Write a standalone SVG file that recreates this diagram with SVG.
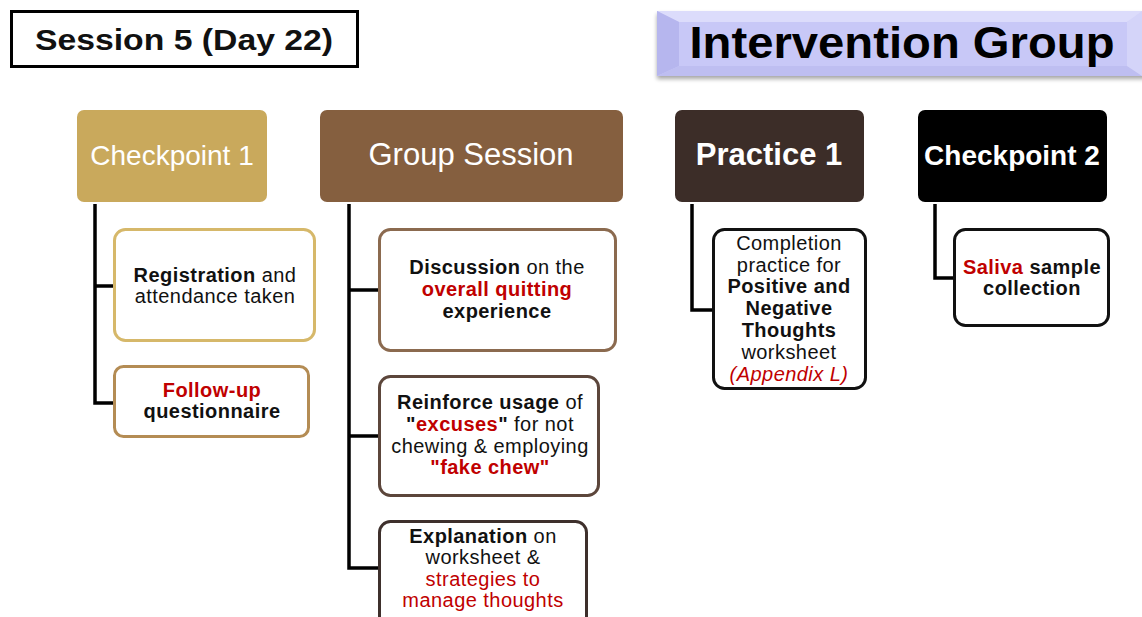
<svg xmlns="http://www.w3.org/2000/svg" width="1142" height="617" viewBox="0 0 1142 617">
<defs>
<filter id="sh" x="-5%" y="-20%" width="110%" height="150%">
<feGaussianBlur in="SourceAlpha" stdDeviation="2"/>
<feOffset dx="0" dy="3"/>
<feComponentTransfer><feFuncA type="linear" slope="0.35"/></feComponentTransfer>
<feMerge><feMergeNode/><feMergeNode in="SourceGraphic"/></feMerge>
</filter>
</defs>
<style>
text{font-family:"Liberation Sans",Arial,sans-serif;}
.hd{fill:#fff;text-anchor:middle;}
.bt{font-size:20px;letter-spacing:0.45px;fill:#111;text-anchor:middle;}
.b{font-weight:bold;}
.r{fill:#c00000;}
.box{fill:#fff;stroke-width:3;}
.ln{fill:none;stroke:#000;stroke-width:3.5;}
</style>
<rect width="1142" height="617" fill="#fff"/>
<g id="title">
<rect x="11.5" y="11.5" width="346" height="55" fill="#fff" stroke="#000" stroke-width="3"/>
<text x="184" y="50" font-size="30" font-weight="bold" text-anchor="middle" textLength="298" lengthAdjust="spacingAndGlyphs" fill="#111">Session 5 (Day 22)</text>
</g>
<g id="banner">
<g filter="url(#sh)">
<rect x="657" y="11" width="490" height="65" fill="#c8c8f7"/>
</g>
<polygon points="657,11 1147,11 1127,22 679,22" fill="#dcdcfb"/>
<polygon points="657,11 679,22 679,66 657,76" fill="#b6b6ee"/>
<polygon points="657,76 679,66 1127,66 1147,76" fill="#bebef1"/>
<polygon points="1142,11 1127,22 1127,66 1142,76" fill="#d4d4f9"/>
<text x="902" y="58" font-size="44" font-weight="bold" text-anchor="middle" textLength="425" lengthAdjust="spacingAndGlyphs" fill="#000">Intervention Group</text>
</g>
<g id="connectors">
<path class="ln" d="M95 204 V403 H114 M95 286 H114"/>
<path class="ln" d="M349 204 V568 H379 M349 290 H379 M349 436 H379"/>
<path class="ln" d="M692 204 V310 H713"/>
<path class="ln" d="M935 204 V278 H954"/>
</g>
<g id="checkpoint1">
<rect x="77" y="110" width="190" height="92" rx="7" fill="#c9a95c"/>
<text class="hd" x="172" y="165" font-size="28">Checkpoint 1</text>
</g>
<g id="group-session">
<rect x="320" y="110" width="303" height="92" rx="7" fill="#855f3f"/>
<text class="hd" x="471" y="165" font-size="31">Group Session</text>
</g>
<g id="practice1">
<rect x="675" y="110" width="189" height="92" rx="7" fill="#3c2d28"/>
<text class="hd b" x="769" y="165" font-size="31">Practice 1</text>
</g>
<g id="checkpoint2">
<rect x="918" y="110" width="189" height="92" rx="7" fill="#000"/>
<text class="hd b" x="1012" y="165" font-size="28">Checkpoint 2</text>
</g>
<g id="registration">
<rect class="box" x="114.5" y="229.5" width="200" height="111" rx="11" stroke="#d6b86a"/>
<text class="bt" x="215" y="282"><tspan class="b">Registration</tspan> and</text>
<text class="bt" x="215" y="303">attendance taken</text>
</g>
<g id="followup">
<rect class="box" x="114.5" y="366.5" width="194" height="70" rx="9" stroke="#b48c54"/>
<text class="bt b r" x="212" y="397">Follow-up</text>
<text class="bt b" x="212" y="418">questionnaire</text>
</g>
<g id="discussion">
<rect class="box" x="379.5" y="229.5" width="236" height="121" rx="11" stroke="#8b6a4f"/>
<text class="bt" x="497" y="274"><tspan class="b">Discussion</tspan> on the</text>
<text class="bt b r" x="497" y="296">overall quitting</text>
<text class="bt b" x="497" y="318">experience</text>
</g>
<g id="reinforce">
<rect class="box" x="379.5" y="376.5" width="219" height="119" rx="11" stroke="#5c463b"/>
<text class="bt" x="490" y="409"><tspan class="b">Reinforce usage</tspan> of</text>
<text class="bt" x="490" y="431"><tspan class="b">"</tspan><tspan class="b r">excuses</tspan><tspan class="b">"</tspan> for not</text>
<text class="bt" x="490" y="453">chewing &amp; employing</text>
<text class="bt b r" x="490" y="474">"fake chew"</text>
</g>
<g id="explanation">
<rect class="box" x="379.5" y="521.5" width="207" height="110" rx="11" stroke="#3e302c"/>
<text class="bt" x="483" y="543"><tspan class="b">Explanation</tspan> on</text>
<text class="bt" x="483" y="564">worksheet &amp;</text>
<text class="bt r" x="483" y="586">strategies to</text>
<text class="bt r" x="483" y="607">manage thoughts</text>
</g>
<g id="completion">
<rect class="box" x="713.5" y="229.5" width="152" height="159" rx="11" stroke="#111"/>
<text class="bt" x="789" y="250">Completion</text>
<text class="bt" x="789" y="272">practice for</text>
<text class="bt b" x="789" y="293">Positive and</text>
<text class="bt b" x="789" y="315">Negative</text>
<text class="bt b" x="789" y="337">Thoughts</text>
<text class="bt" x="789" y="359">worksheet</text>
<text class="bt r" x="789" y="381" font-style="italic">(Appendix L)</text>
</g>
<g id="saliva">
<rect class="box" x="954.5" y="229.5" width="154" height="96" rx="11" stroke="#111"/>
<text class="bt b" x="1032" y="274"><tspan class="r">Saliva</tspan> sample</text>
<text class="bt b" x="1032" y="295">collection</text>
</g>
</svg>
